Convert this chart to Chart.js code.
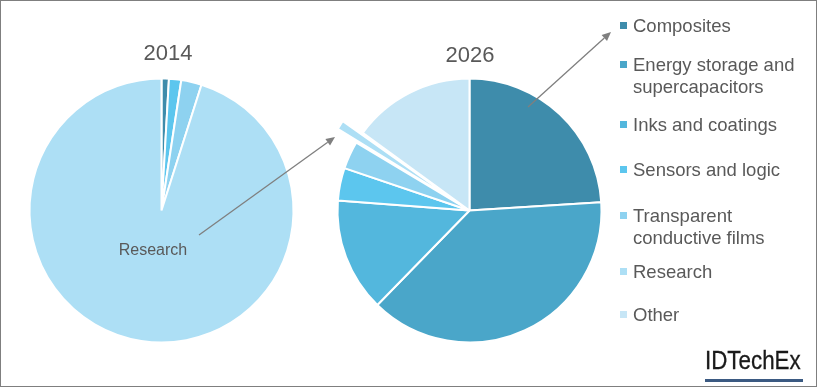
<!DOCTYPE html>
<html>
<head>
<meta charset="utf-8">
<script src="https://cdn.jsdelivr.net/npm/chart.js@4.4.0/dist/chart.umd.min.js"></script>
<style>
  html, body { margin: 0; padding: 0; background: #fff; }
  #wrap { position: relative; width: 819px; height: 389px; overflow: hidden;
          font-family: "Liberation Sans", Arial, sans-serif; color: #595959; }
  #frame { position: absolute; left: 0; top: 0; width: 815px; height: 385px; border: 1px solid #7f7f7f; }
  canvas { position: absolute; }
  .title { position: absolute; font-size: 22px; transform: translate(-50%, -50%); white-space: nowrap; }
  .inlabel { position: absolute; font-size: 16px; transform: translate(-50%, -50%); white-space: nowrap; }
  .leg { position: absolute; left: 620px; font-size: 18.5px; line-height: 21.5px; white-space: nowrap; }
  .leg i { position: absolute; left: 0; top: 7px; width: 7px; height: 7px; }
  .leg span { position: absolute; left: 13px; top: 0; }
  #logo { position: absolute; left: 705px; top: 345px; font-size: 26px; color: #1a1a1a;
          transform: scaleX(0.86); transform-origin: left top; white-space: nowrap;
          -webkit-text-stroke: 0.3px #1a1a1a; }
  #logoBar { position: absolute; left: 705px; top: 379px; width: 98px; height: 2.5px; background: #3b5a82; }
  #arrows { left: 0; top: 0; pointer-events: none; }
</style>
</head>
<body>
<div id="wrap">
  <canvas id="pie2014" width="281" height="281" style="left:21px; top:70px;"></canvas>
  <canvas id="pie2026" width="341" height="341" style="left:299px; top:40px;"></canvas>
  <canvas id="arrows" width="819" height="389"></canvas>
  <div class="title" style="left:168px; top:53px;">2014</div>
  <div class="title" style="left:470px; top:55px;">2026</div>
  <div class="inlabel" style="left:153px; top:250px;">Research</div>
  <div id="legend"></div>
  <div id="logo">IDTechEx</div>
  <div id="logoBar"></div>
  <div id="frame"></div>
</div>
<script>
// -------- DATA --------
const categories = ['Composites', 'Energy storage and\nsupercapacitors', 'Inks and coatings',
                    'Sensors and logic', 'Transparent\nconductive films', 'Research', 'Other'];
const share2014 = [0.9, 0, 0, 1.5, 2.5, 95.1, 0];
const share2026 = [24.0, 38.3, 13.9, 4.0, 3.4, 1.4, 15.0];
const exploded2026 = [0, 0, 0, 0, 0, 48, 0];

// -------- STYLE / LAYOUT --------
const sliceColors = ['#3e8cab', '#4aa6c9', '#53b7dd', '#5cc6ee', '#8ed2f0', '#addff5', '#c7e6f6'];
const legendTop = [15, 54, 114, 159, 205, 261, 304];
const arrows = [
    { from: [199, 235], to: [335, 137] },
    { from: [528, 107], to: [611, 32] }
];

function makePie(id, values, offsets) {
    return new Chart(document.getElementById(id), {
        type: 'pie',
        data: {
            labels: categories,
            datasets: [{
                data: values,
                backgroundColor: sliceColors,
                borderColor: '#ffffff',
                borderWidth: 2,
                offset: offsets || 0
            }]
        },
        options: {
            responsive: false,
            animation: false,
            radius: 132,
            layout: { padding: 0 },
            plugins: { legend: { display: false }, tooltip: { enabled: false } }
        }
    });
}

makePie('pie2014', share2014);
makePie('pie2026', share2026, exploded2026);

// legend
const legend = document.getElementById('legend');
categories.forEach((c, i) => {
    const item = document.createElement('div');
    item.className = 'leg';
    item.style.top = legendTop[i] + 'px';
    const sw = document.createElement('i');
    sw.style.background = sliceColors[i];
    const txt = document.createElement('span');
    txt.innerHTML = c.split('\n').join('<br>');
    item.appendChild(sw);
    item.appendChild(txt);
    legend.appendChild(item);
});

// arrows
const actx = document.getElementById('arrows').getContext('2d');
actx.strokeStyle = '#7f7f7f';
actx.fillStyle = '#7f7f7f';
actx.lineWidth = 1.3;
arrows.forEach(a => {
    const [x1, y1] = a.from, [x2, y2] = a.to;
    const ang = Math.atan2(y2 - y1, x2 - x1);
    const len = 9, half = 4;
    const bx = x2 - Math.cos(ang) * len, by = y2 - Math.sin(ang) * len;
    actx.beginPath();
    actx.moveTo(x1, y1);
    actx.lineTo(bx, by);
    actx.stroke();
    actx.beginPath();
    actx.moveTo(x2, y2);
    actx.lineTo(bx + Math.sin(ang) * half, by - Math.cos(ang) * half);
    actx.lineTo(bx - Math.sin(ang) * half, by + Math.cos(ang) * half);
    actx.closePath();
    actx.fill();
});
</script>
</body>
</html>
